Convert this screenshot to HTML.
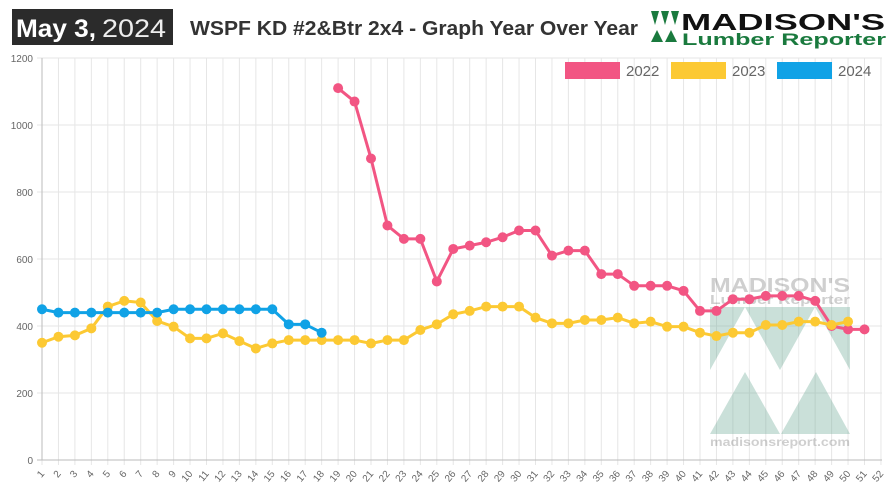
<!DOCTYPE html>
<html><head><meta charset="utf-8"><style>
body{margin:0;width:895px;height:494px;background:#fff;overflow:hidden;font-family:"Liberation Sans",sans-serif}
</style></head><body>
<svg id="s" width="895" height="494" xmlns="http://www.w3.org/2000/svg">
<rect x="12" y="9" width="161" height="36" fill="#2b2b2b"/>
<text x="16" y="37" font-size="25" fill="#fff" font-weight="bold" textLength="80" lengthAdjust="spacingAndGlyphs">May 3,</text>
<text x="102" y="37" font-size="25" fill="#eee" textLength="64" lengthAdjust="spacingAndGlyphs">2024</text>
<text x="190" y="35" font-size="20" fill="#333" font-weight="bold" textLength="448" lengthAdjust="spacingAndGlyphs">WSPF KD #2&amp;Btr 2x4 - Graph Year Over Year</text>
<g fill="#1a7a3e">
<polygon points="651,11 659,11 655,25"/><polygon points="661,11 669,11 665,25"/><polygon points="671,11 679,11 675,25"/>
<polygon points="651,42 657,30 663,42"/><polygon points="665,42 671,30 677,42"/>
</g>
<text x="681" y="30" font-size="23" font-weight="bold" fill="#111" textLength="204" lengthAdjust="spacingAndGlyphs">MADISON'S</text>
<text x="682" y="45" font-size="17" font-weight="bold" fill="#1a7a3e" textLength="204" lengthAdjust="spacingAndGlyphs">Lumber Reporter</text>
<g id="grid"></g>
<g opacity="0.35">
<rect x="710" y="307" width="140" height="63" fill="#6aa894"/>
<polygon points="710,370 745,307 780,370" fill="#fff"/><polygon points="780,370 815,307 850,370" fill="#fff"/>
<polygon points="710,434 745,372 780,434" fill="#6aa894"/><polygon points="781,434 816,372 850,434" fill="#6aa894"/>
<text x="710" y="292" font-size="20" font-weight="bold" fill="#777" textLength="140" lengthAdjust="spacingAndGlyphs">MADISON'S</text>
<text x="710" y="304" font-size="13" font-weight="bold" fill="#777" textLength="140" lengthAdjust="spacingAndGlyphs">Lumber Reporter</text>
<text x="710" y="446" font-size="12" font-weight="bold" fill="#777" textLength="140" lengthAdjust="spacingAndGlyphs">madisonsreport.com</text>
</g>
<g id="data"></g>
<rect x="565" y="62" width="55" height="17" fill="#f25583"/><text x="626" y="76" font-size="15" fill="#666">2022</text>
<rect x="671" y="62" width="55" height="17" fill="#fcc933"/><text x="732" y="76" font-size="15" fill="#666">2023</text>
<rect x="777" y="62" width="55" height="17" fill="#10a2e6"/><text x="838" y="76" font-size="15" fill="#666">2024</text>
</svg>
<script>
const X=i=>42+(i-1)*16.45, Y=v=>460-v*0.335;
let g='';
for(let i=1;i<=52;i++){g+=`<line x1="${X(i)}" y1="58" x2="${X(i)}" y2="465" stroke="#e6e6e6"/>`;
g+=`<text transform="translate(${X(i)+3},${474}) rotate(-50)" text-anchor="end" font-size="10" fill="#666">${i}</text>`;}
for(let v=0;v<=1200;v+=200){g+=`<line x1="37" y1="${Y(v)}" x2="882" y2="${Y(v)}" stroke="#e6e6e6"/><text x="33" y="${Y(v)+4}" text-anchor="end" font-size="10" fill="#666">${v}</text>`;}
g+=`<line x1="42" y1="58" x2="42" y2="460" stroke="#bbb"/><line x1="37" y1="460" x2="882" y2="460" stroke="#bbb"/>`;
document.getElementById('grid').innerHTML=g;
const d22=[1110,1070,900,700,660,660,533,630,640,650,665,685,685,610,625,625,555,555,520,520,520,505,445,445,480,480,490,490,490,475,400,390,390];
const d23=[350,368,372,393,458,475,470,415,398,363,363,378,355,333,348,358,358,358,358,358,348,358,358,388,405,435,445,458,458,458,425,408,408,418,418,425,408,413,398,398,380,370,380,380,403,403,413,413,403,413];
const d24=[450,440,440,440,440,440,440,440,450,450,450,450,450,450,450,405,405,380];
function ser(a,s,c){let p=a.map((v,k)=>`${X(s+k)},${Y(v)}`);let o=`<polyline points="${p.join(' ')}" fill="none" stroke="${c}" stroke-width="3"/>`;a.forEach((v,k)=>o+=`<circle cx="${X(s+k)}" cy="${Y(v)}" r="5" fill="${c}"/>`);return o;}
document.getElementById('data').innerHTML=ser(d22,19,'#f25583')+ser(d23,1,'#fcc933')+ser(d24,1,'#10a2e6');
</script>
</body></html>
